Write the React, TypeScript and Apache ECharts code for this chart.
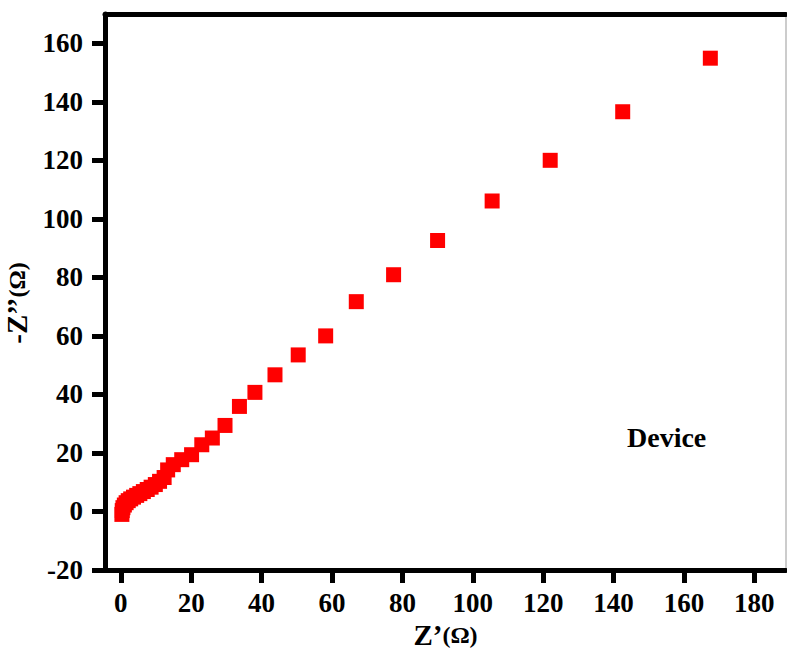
import React, { useEffect, useRef } from "react";
import * as echarts from "echarts";

const zReal: number[] = [0.3, 0.4, 0.6, 1.0, 1.5, 2.1, 2.8, 3.6, 4.5, 5.4, 6.4, 7.5, 8.6, 9.8, 11.0, 12.3, 13.3, 14.9, 17.3, 20.1, 23.0, 26.0, 29.6, 33.7, 38.1, 43.8, 50.4, 58.2, 66.9, 77.5, 90.0, 105.5, 122.0, 142.6, 167.5];
const zImag: number[] = [-1.0, 0.3, 1.3, 2.2, 3.0, 3.7, 4.3, 4.9, 5.5, 6.1, 6.8, 7.5, 8.3, 9.2, 10.3, 11.6, 14.2, 16.0, 17.7, 19.4, 22.8, 25.1, 29.4, 35.9, 40.7, 46.7, 53.5, 60.0, 71.7, 80.9, 92.6, 106.1, 120.0, 136.6, 154.9];
const xTicks: number[] = [0, 20, 40, 60, 80, 100, 120, 140, 160, 180];
const yTicks: number[] = [-20, 0, 20, 40, 60, 80, 100, 120, 140, 160];
const seriesLabel = "Device";

export default function App() {
  const ref = useRef<HTMLDivElement>(null);
  useEffect(() => {
    if (!ref.current) return;
    const chart = echarts.init(ref.current, undefined, { renderer: "svg" });
    const font = "Liberation Serif";
    const labelStyle = { fontFamily: font, fontWeight: "bold" as const, fontSize: 27, color: "#000" };
    chart.setOption({
      animation: false,
      backgroundColor: "#fff",
      grid: { left: 105, top: 14, right: 1, bottom: 87, show: true, borderColor: "#999", borderWidth: 1, outerBoundsMode: "none", containLabel: false },
      xAxis: [
        {
          type: "value",
          min: -4.5,
          max: 189,
          position: "bottom",
          splitLine: { show: false },
          axisLine: { onZero: false, lineStyle: { color: "#000", width: 5 } },
          axisTick: { customValues: xTicks, length: 13, lineStyle: { color: "#000", width: 5 } },
          axisLabel: { customValues: xTicks, margin: 19, ...labelStyle },
          name: "{a|Z’}{b|(Ω)}",
          nameLocation: "middle",
          nameGap: 50,
          nameTextStyle: {
            rich: {
              a: { fontFamily: font, fontWeight: "bold", fontSize: 29, color: "#000" },
              b: { fontFamily: font, fontWeight: "bold", fontSize: 24, color: "#000" },
            },
          },
        },
        {
          type: "value",
          min: -4.5,
          max: 189,
          position: "top",
          splitLine: { show: false },
          axisLine: { onZero: false, lineStyle: { color: "#000", width: 5 } },
          axisTick: { show: false },
          axisLabel: { show: false },
        },
      ],
      yAxis: {
        type: "value",
        min: -20,
        max: 170,
        splitLine: { show: false },
        axisLine: { onZero: false, lineStyle: { color: "#000", width: 5 } },
        axisTick: { customValues: yTicks, length: 13, lineStyle: { color: "#000", width: 5 } },
        axisLabel: { customValues: yTicks, margin: 22, ...labelStyle },
        name: "{a|-Z’’}{b|(Ω)}",
        nameLocation: "middle",
        nameGap: 70,
        nameRotate: 90,
        nameTextStyle: {
          padding: [0, 22, 0, 0],
          rich: {
            a: { fontFamily: font, fontWeight: "bold", fontSize: 29, color: "#000" },
            b: { fontFamily: font, fontWeight: "bold", fontSize: 24, color: "#000" },
          },
        },
      },
      series: [
        {
          type: "scatter",
          name: seriesLabel,
          symbol: "rect",
          symbolSize: 15,
          itemStyle: { color: "#ff0000", opacity: 1 },
          data: zReal.map((x, i) => [x, zImag[i]]),
        },
      ],
      graphic: [
        {
          type: "text",
          left: 627,
          top: 423,
          style: { text: seriesLabel, fontFamily: font, fontWeight: "bold", fontSize: 28, fill: "#000" },
        },
      ],
    });
    return () => chart.dispose();
  }, []);
  return <div ref={ref} style={{ width: 787, height: 657, position: "absolute", left: 0, top: 0 }} />;
}
